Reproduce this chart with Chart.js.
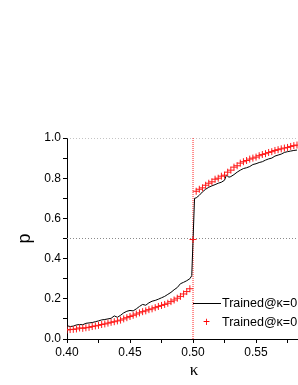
<!DOCTYPE html>
<html>
<head>
<meta charset="utf-8">
<script src="https://cdn.jsdelivr.net/npm/chart.js@4/dist/chart.umd.min.js"></script>
<style>
  html, body { margin: 0; padding: 0; background: #fff; overflow: hidden; width: 298px; height: 385px; }
  #wrap { position: relative; width: 298px; height: 385px; overflow: hidden; }
  canvas { position: absolute; left: 0; top: 0; }
  .leg { position: absolute; left: 0; top: 0; width: 298px; height: 385px; pointer-events: none; font-family: "Liberation Sans", Arial, sans-serif; font-size: 12.5px; color: #000; }
  .row { position: absolute; white-space: nowrap; line-height: 14px; }
  .lineSample { position: absolute; height: 0; border-top: 1px solid #000; }
  .plusSample { position: absolute; color: #ff0000; font-size: 12px; line-height: 12px; }
  .xTitle { position: absolute; left: 184px; width: 20px; text-align: center; top: 361px; font-family: "Liberation Serif", serif; font-size: 17px; line-height: 17px; color: #000; }
</style>
</head>
<body>
<div id="wrap">
  <canvas id="c" width="303" height="385"></canvas>
  <div class="leg">
    <div class="lineSample" style="left:193px; top:303px; width:28px;"></div>
    <div class="row" style="left:222px; top:296px;">Trained@κ=0</div>
    <div class="plusSample" style="left:203px; top:316px;">+</div>
    <div class="row" style="left:222px; top:315px;">Trained@κ=0</div>
    <div class="xTitle">κ</div>
  </div>
</div>
<script>
// ---- data ----
const blackKappa = [0.400,0.4025,0.405,0.4075,0.410,0.4125,0.415,0.4175,0.420,0.4225,0.425,0.4275,0.430,0.4325,0.435,0.4375,0.440,0.4425,0.445,0.4475,0.450,0.4525,0.455,0.4575,0.460,0.4625,0.465,0.4675,0.470,0.4725,0.475,0.4775,0.480,0.4825,0.485,0.4875,0.490,0.4925,0.495,0.4975,0.499,0.5012,0.5025,0.505,0.5075,0.510,0.5125,0.515,0.5175,0.520,0.5225,0.525,0.5265,0.5285,0.530,0.5325,0.535,0.5375,0.540,0.5425,0.545,0.5475,0.550,0.5525,0.555,0.5575,0.560,0.5625,0.565,0.5675,0.570,0.5725,0.575,0.5775,0.580,0.5825];
const blackP = [0.066,0.062,0.064,0.070,0.072,0.071,0.078,0.080,0.082,0.086,0.090,0.095,0.097,0.100,0.103,0.115,0.108,0.118,0.130,0.138,0.142,0.140,0.150,0.162,0.172,0.168,0.180,0.188,0.192,0.198,0.205,0.212,0.222,0.232,0.245,0.256,0.275,0.282,0.290,0.300,0.315,0.700,0.702,0.715,0.732,0.745,0.755,0.762,0.768,0.775,0.780,0.790,0.815,0.805,0.808,0.818,0.830,0.840,0.848,0.852,0.858,0.868,0.872,0.878,0.882,0.890,0.896,0.900,0.910,0.915,0.920,0.928,0.932,0.935,0.938,0.940];
const redKappa = [0.400,0.4025,0.405,0.4075,0.410,0.4125,0.415,0.4175,0.420,0.4225,0.425,0.4275,0.430,0.4325,0.435,0.4375,0.440,0.4425,0.445,0.4475,0.450,0.4525,0.455,0.4575,0.460,0.4625,0.465,0.4675,0.470,0.4725,0.475,0.4775,0.480,0.4825,0.485,0.4875,0.490,0.4925,0.495,0.4975,0.500,0.5025,0.505,0.5075,0.510,0.5125,0.515,0.5175,0.520,0.5225,0.525,0.5275,0.530,0.5325,0.535,0.5375,0.540,0.5425,0.545,0.5475,0.550,0.5525,0.555,0.5575,0.560,0.5625,0.565,0.5675,0.570,0.5725,0.575,0.5775,0.580,0.5825];
const redP = [0.045,0.047,0.048,0.050,0.055,0.053,0.056,0.058,0.062,0.065,0.068,0.072,0.075,0.079,0.083,0.086,0.090,0.094,0.100,0.106,0.112,0.118,0.124,0.130,0.136,0.140,0.146,0.150,0.156,0.162,0.167,0.172,0.178,0.186,0.194,0.203,0.212,0.224,0.236,0.250,0.495,0.735,0.745,0.752,0.765,0.775,0.782,0.795,0.800,0.810,0.815,0.830,0.840,0.855,0.862,0.875,0.882,0.888,0.895,0.900,0.905,0.912,0.918,0.922,0.928,0.932,0.938,0.942,0.946,0.950,0.953,0.958,0.962,0.965];
const refLevels = [0.5, 1.0];
const criticalKappa = 0.5;
const xTickLabels = ["0.40", "0.45", "0.50", "0.55"];
const yTickLabels = ["0.0", "0.2", "0.4", "0.6", "0.8", "1.0"];
const xMin = 0.40, xMax = 0.5833, yMin = 0, yMax = 1.0;

const toPts = (xs, ys) => xs.map((x, i) => ({ x: x, y: ys[i] }));

const refDatasets = refLevels.map(v => ({
  data: [{ x: xMin, y: v }, { x: xMax, y: v }],
  borderColor: '#8a8a8a', borderWidth: 1, borderDash: [1, 2],
  pointRadius: 0, showLine: true, order: 5
}));
refDatasets.push({
  data: [{ x: criticalKappa, y: yMin }, { x: criticalKappa, y: yMax }],
  borderColor: '#ff2020', borderWidth: 1, borderDash: [1, 1],
  pointRadius: 0, showLine: true, order: 4
});

new Chart(document.getElementById('c'), {
  type: 'scatter',
  data: {
    datasets: [
      ...refDatasets,
      { data: toPts(blackKappa, blackP), showLine: true, borderColor: '#000', borderWidth: 1, pointRadius: 0, tension: 0, order: 2 },
      { data: toPts(redKappa, redP), showLine: false, pointStyle: 'cross', pointRadius: 3.5, borderColor: '#ff1a1a', borderWidth: 1, backgroundColor: '#ff1a1a', order: 1 }
    ]
  },
  options: {
    responsive: false,
    animation: false,
    events: [],
    layout: { padding: { top: 138, left: 0, right: 0, bottom: 0 } },
    plugins: { legend: { display: false }, tooltip: { enabled: false } },
    scales: {
      x: {
        type: 'linear', min: xMin, max: xMax,
        afterFit: s => { s.height = 46; },
        grid: { display: true, drawOnChartArea: false, drawTicks: true, tickLength: 4, color: '#000' },
        border: { display: true, color: '#000', width: 1 },
        ticks: {
          stepSize: 0.025, includeBounds: false, padding: 2, color: '#000', maxRotation: 0, autoSkip: false,
          font: { family: '"Liberation Sans", Arial, sans-serif', size: 12 },
          callback: (v, i) => (i % 2 === 0 ? (xTickLabels[i / 2] || '') : '')
        },
        title: { display: false }
      },
      y: {
        type: 'linear', min: yMin, max: yMax,
        afterFit: s => { s.width = 67; },
        grid: { display: true, drawOnChartArea: false, drawTicks: true, tickLength: 4, color: '#000' },
        border: { display: true, color: '#000', width: 1 },
        ticks: {
          stepSize: 0.1, padding: 2, color: '#000', autoSkip: false,
          font: { family: '"Liberation Sans", Arial, sans-serif', size: 12 },
          callback: (v, i) => (i % 2 === 0 ? (yTickLabels[i / 2] || '') : '')
        },
        title: { display: true, text: 'p', color: '#000', padding: { top: 14, bottom: 0 },
          font: { family: '"Liberation Sans", Arial, sans-serif', size: 18 } }
      }
    }
  }
});
</script>
</body>
</html>
